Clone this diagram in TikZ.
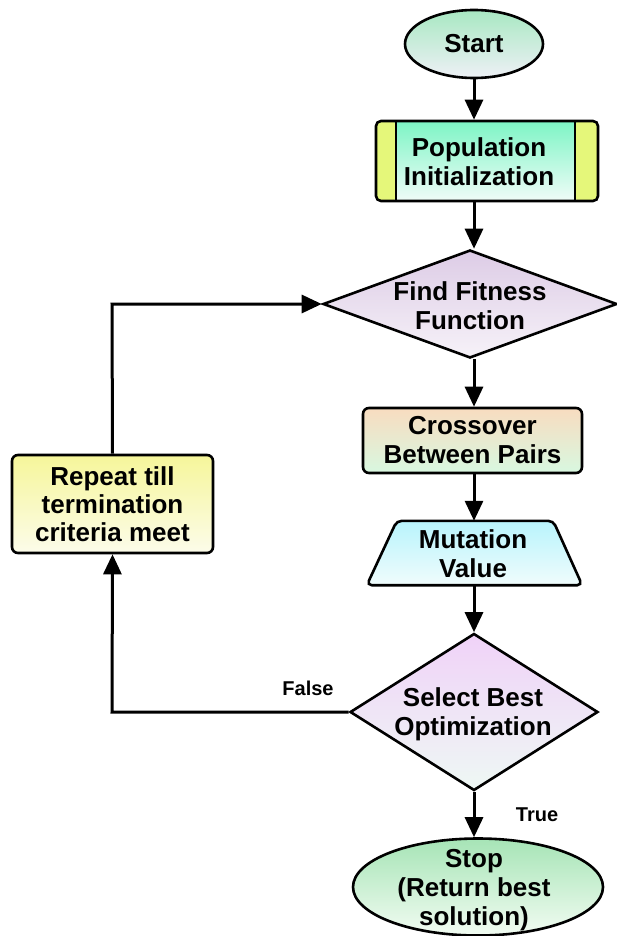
\documentclass[tikz,border=0pt]{standalone}
\usepackage{fontspec}
\setmainfont{Liberation Sans}
\usetikzlibrary{shapes.geometric,arrows.meta}
\definecolor{popTop}{HTML}{7DF5C5}
\definecolor{popBot}{HTML}{F0FCF8}
\definecolor{barY}{HTML}{E5F77A}
\definecolor{crTop}{HTML}{F8DCC0}
\definecolor{crBot}{HTML}{D8F8E0}
\definecolor{muTop}{HTML}{B8F4FC}
\definecolor{muBot}{HTML}{F0FCFC}
\definecolor{ffTop}{HTML}{DDCCE6}
\definecolor{ffBot}{HTML}{F6F2F8}
\definecolor{sbTop}{HTML}{F0D2F8}
\definecolor{sbBot}{HTML}{EEF8F4}
\definecolor{spTop}{HTML}{A6E4B6}
\definecolor{spBot}{HTML}{F2FCF2}
\definecolor{stTop}{HTML}{A8E8C2}
\definecolor{stBot}{HTML}{EEF0F6}
\definecolor{rpTop}{HTML}{F6F69A}
\definecolor{rpBot}{HTML}{FCFCEA}
\tikzset{
  base/.style={draw=black, line width=2.6pt, inner sep=0pt, align=center,
    font=\bfseries\fontsize{26}{29}\selectfont},
  boxnode/.style={base, rectangle, rounded corners=6pt},
  txt/.style={inner sep=0pt, align=center, font=\bfseries\fontsize{26}{29}\selectfont},
  lbl/.style={inner sep=0pt, font=\bfseries\fontsize{20}{24}\selectfont},
  arr/.style={line width=3pt, -{Triangle[width=18pt,length=20pt]}},
  ln/.style={line width=3pt}
}
\begin{document}
\begin{tikzpicture}[x=1pt,y=-1pt]
\useasboundingbox (0,0) rectangle (617,936);
% Start
\node[base, ellipse, minimum width=138pt, minimum height=68pt,
  top color=stTop, bottom color=stBot] (start) at (474,44) {Start};
% Population Initialization
\node[boxnode, rounded corners=5pt, minimum width=222pt, minimum height=80pt,
  top color=popTop, bottom color=popBot,
  path picture={
    \fill[barY] (path picture bounding box.south west) rectangle ([xshift=20pt]path picture bounding box.north west);
    \fill[barY] (path picture bounding box.south east) rectangle ([xshift=-23pt]path picture bounding box.north east);
    \draw[line width=2.6pt] ([xshift=20pt]path picture bounding box.south west) -- ([xshift=20pt]path picture bounding box.north west);
    \draw[line width=2.6pt] ([xshift=-23pt]path picture bounding box.south east) -- ([xshift=-23pt]path picture bounding box.north east);
  }] (pop) at (487,161) {};
\node[txt] (poptxt) at (479,162) {Population\\Initialization};
% Find Fitness Function
\node[base, diamond, minimum width=294pt, minimum height=108pt,
  top color=ffTop, bottom color=ffBot] (fit) at (470,304) {};
\node[txt] (fittxt) at (470,306) {Find Fitness\\Function};
% Crossover
\node[boxnode, minimum width=219pt, minimum height=65pt,
  top color=crTop, bottom color=crBot] (cross) at (472.5,440.5) {Crossover\\Between Pairs};
% Mutation (trapezium drawn from the frame of an invisible node)
\node[inner sep=0pt, minimum width=215pt, minimum height=64pt] (mut) at (474.5,553) {};
\draw[line width=2.6pt, rounded corners=5pt, top color=muTop, bottom color=muBot]
  (mut.south west) -- ([xshift=30pt]mut.north west) -- ([xshift=-29pt]mut.north east)
  -- (mut.south east) -- cycle;
\node[txt] (muttxt) at (473,554) {Mutation\\Value};
% Select Best Optimization
\node[base, diamond, minimum width=248pt, minimum height=157pt,
  top color=sbTop, bottom color=sbBot] (sel) at (474,712) {};
\node[txt] (seltxt) at (473,714) {Select Best\\Optimization};
% Stop
\node[base, ellipse, minimum width=250pt, minimum height=97pt,
  top color=spTop, bottom color=spBot] (stop) at (478,887) {};
\node[txt] (stoptxt) at (474,890) {Stop\\(Return best\\solution)};
% Repeat
\node[boxnode, font=\bfseries\fontsize{26}{28}\selectfont, minimum width=201pt, minimum height=98pt,
  top color=rpTop, bottom color=rpBot] (rep) at (112.5,504) {Repeat till\\termination\\criteria meet};
% corners for loop
\coordinate (c1) at (112,712);
\coordinate (c2) at (112,304);
% connectors
\draw[arr] (start.south) -- (start.south |- pop.north);
\draw[arr] (start.south |- pop.south) -- (start.south |- fit.north);
\draw[arr] (start.south |- fit.south) -- (start.south |- cross.north);
\draw[arr] (start.south |- cross.south) -- (start.south |- mut.north);
\draw[arr] (start.south |- mut.south) -- (sel.north);
\draw[arr] (sel.south) -- (sel.south |- stop.north);
\draw[arr] (sel.west) -- (c1) -- (rep.south);
\draw[arr] (rep.north) -- (c2) -- (fit.west);
% labels
\node[lbl] (lfalse) at (308,688) {False};
\node[lbl] (ltrue) at (537,815) {True};
\end{tikzpicture}
\end{document}
